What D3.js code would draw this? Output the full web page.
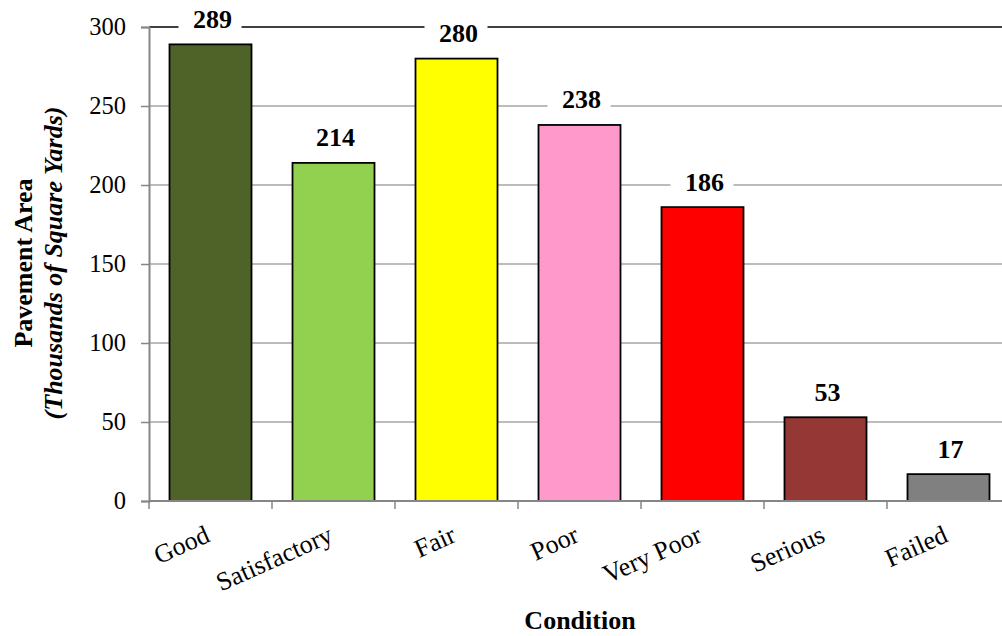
<!DOCTYPE html>
<html>
<head>
<meta charset="utf-8">
<script src="https://cdn.jsdelivr.net/npm/d3@7"></script>
<style>
  html, body { margin: 0; padding: 0; background: #fff; }
  svg { display: block; }
</style>
</head>
<body>
<svg id="chart" width="1002" height="636"></svg>
<script>
// Pavement area by condition (thousands of square yards)
const categories = ["Good", "Satisfactory", "Fair", "Poor", "Very Poor", "Serious", "Failed"];
const values = [289, 214, 280, 238, 186, 53, 17];
const barColors = ["#4F6228", "#92D050", "#FFFF00", "#FF99CC", "#FF0000", "#953735", "#808080"];
const yTicks = [0, 50, 100, 150, 200, 250, 300];

const FONT = "'Liberation Serif'";
const svg = d3.select("#chart");
const plotLeft = 149, plotRight = 1010, plotTop = 27, plotBottom = 501;

const x = d3.scaleBand().domain(categories).range([plotLeft, plotRight]).paddingInner(1/3).paddingOuter(1/6);
const y = d3.scaleLinear().domain([0, 300]).range([plotBottom, plotTop]);

// horizontal gridlines
svg.append("g").selectAll("line").data(yTicks.filter(d => d > 0)).join("line")
  .attr("x1", plotLeft).attr("x2", plotRight)
  .attr("y1", d => y(d)).attr("y2", d => y(d))
  .attr("stroke", d => d === 300 ? "#000" : "#a6a6a6")
  .attr("stroke-width", 1.5);

// y axis
const yAxis = svg.append("g").attr("transform", `translate(${plotLeft},0)`)
  .call(d3.axisLeft(y).tickValues(yTicks).tickSize(8).tickPadding(15));
yAxis.attr("font-family", null).attr("font-size", null);
yAxis.select(".domain").attr("stroke", "#868686").attr("stroke-width", 2);
yAxis.selectAll(".tick line").attr("stroke", "#868686").attr("stroke-width", 1.5);
yAxis.selectAll(".tick text").style("font-family", FONT).style("font-size", "24.5px").attr("fill", "#000");

// bars
svg.append("g").selectAll("rect").data(values).join("rect")
  .attr("x", (d, i) => x(categories[i]))
  .attr("y", d => y(d))
  .attr("width", x.bandwidth())
  .attr("height", d => plotBottom - y(d))
  .attr("fill", (d, i) => barColors[i])
  .attr("stroke", "#000")
  .attr("stroke-width", 1.8);

// x axis with ticks at category boundaries
const step = x.step();
const boundaries = d3.range(categories.length + 1).map(i => plotLeft + i * step);
svg.append("line").attr("x1", plotLeft).attr("x2", plotRight).attr("y1", plotBottom).attr("y2", plotBottom)
  .attr("stroke", "#868686").attr("stroke-width", 2);
svg.append("g").selectAll("line").data(boundaries).join("line")
  .attr("x1", d => d).attr("x2", d => d).attr("y1", plotBottom).attr("y2", plotBottom + 8)
  .attr("stroke", "#868686").attr("stroke-width", 1.5);

// category labels, rotated
svg.append("g").selectAll("text").data(categories).join("text")
  .attr("transform", d => `translate(${x(d) + x.bandwidth() / 2 + 1},541) rotate(-24)`)
  .attr("text-anchor", "end")
  .style("font-family", FONT).style("font-size", "26px")
  .text(d => d);

// value labels with white backing
const labels = svg.append("g").selectAll("g").data(values).join("g")
  .attr("transform", (d, i) => `translate(${x(categories[i]) + x.bandwidth() / 2},${y(d) - 16.5})`);
labels.append("rect")
  .attr("x", -32).attr("y", -23).attr("width", 63).attr("height", 28)
  .attr("fill", "#fff");
labels.append("text")
  .attr("x", 2)
  .attr("text-anchor", "middle")
  .style("font-family", FONT).style("font-size", "26px").style("font-weight", "bold")
  .text(d => d);

// axis titles
const yTitle = svg.append("text")
  .attr("transform", "translate(0,263) rotate(-90)")
  .attr("text-anchor", "middle")
  .style("font-family", FONT).style("font-size", "26px").style("font-weight", "bold");
yTitle.append("tspan").attr("x", 0).attr("y", 32).text("Pavement Area");
yTitle.append("tspan").attr("x", 0).attr("y", 62).style("font-style", "italic").text("(Thousands of Square Yards)");

svg.append("text")
  .attr("x", 580).attr("y", 629)
  .attr("text-anchor", "middle")
  .style("font-family", FONT).style("font-size", "26px").style("font-weight", "bold")
  .text("Condition");
</script>
</body>
</html>
